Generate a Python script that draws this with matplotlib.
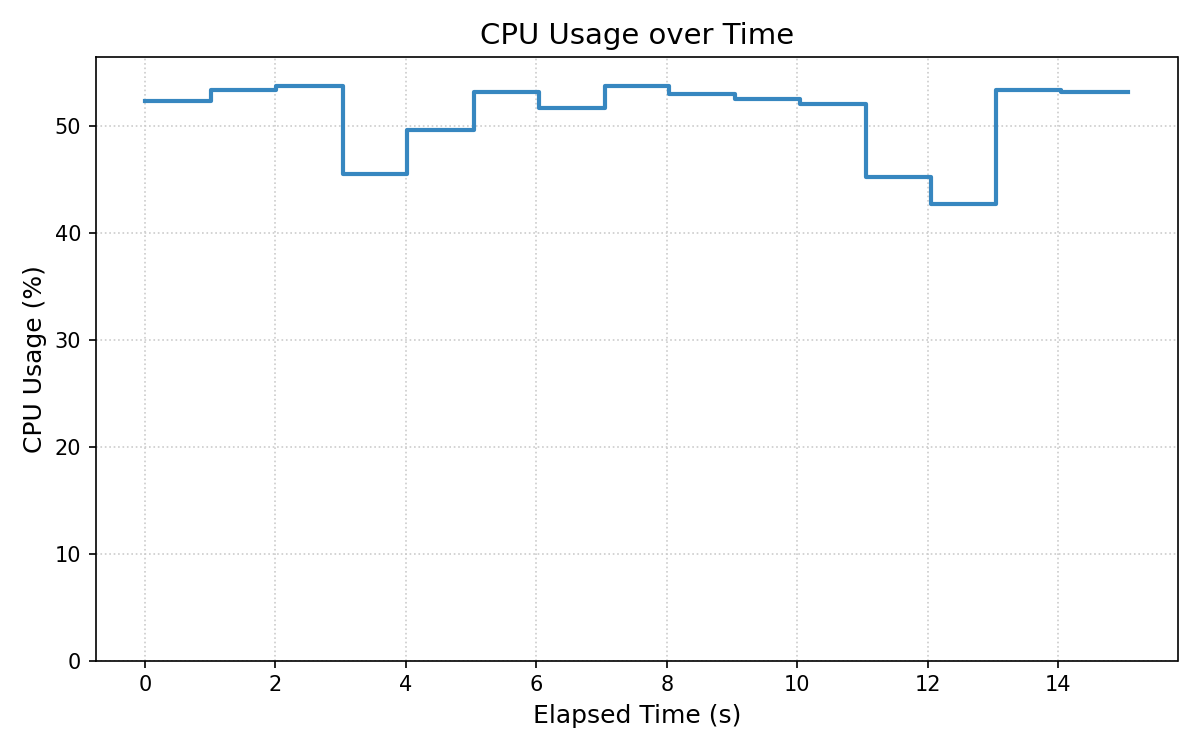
import numpy as np
import matplotlib.pyplot as plt

# elapsed time (s) and cpu usage (%) samples
elapsed = [0.0, 1.01, 2.01, 3.03, 4.02, 5.04, 6.04, 7.05, 8.04, 9.05,
           10.05, 11.05, 12.05, 13.05, 14.04, 15.08]
cpu_usage = [52.4, 53.4, 53.8, 45.5, 49.7, 53.2, 51.7, 53.75, 53.0, 52.6,
             52.05, 45.3, 42.7, 53.4, 53.2, 53.2]


def main():
    fig, ax = plt.subplots(figsize=(8, 5), dpi=150)
    ax.step(elapsed, cpu_usage, where="post", color="#3787c0", linewidth=2)
    ax.set_ylim(0, max(cpu_usage) * 1.05)
    ax.set_title("CPU Usage over Time", fontsize=14)
    ax.set_xlabel("Elapsed Time (s)", fontsize=12)
    ax.set_ylabel("CPU Usage (%)", fontsize=12)
    ax.grid(True, linestyle=":", color="#cccccc", linewidth=0.8)
    plt.tight_layout()
    plt.savefig("out.png", dpi=150)


if __name__ == "__main__":
    main()
